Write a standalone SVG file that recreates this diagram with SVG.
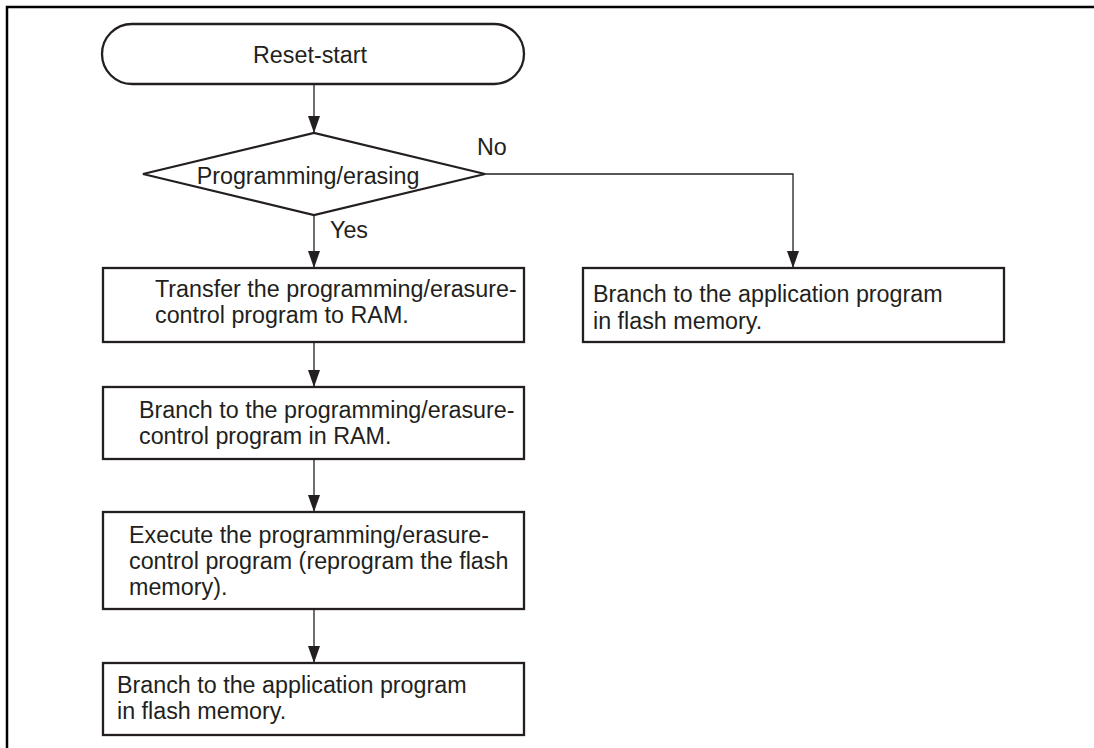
<svg xmlns="http://www.w3.org/2000/svg" width="1094" height="748" viewBox="0 0 1094 748">
<style>
.s{fill:#fff;stroke:#231f20;stroke-width:2.3}
.t{font-family:"Liberation Sans",Arial,sans-serif;font-size:23.3px;fill:#231f20}
.c{fill:none;stroke:#231f20;stroke-width:1.3}
</style>
<defs>
<marker id="ah" markerWidth="18" markerHeight="12" refX="17" refY="6" orient="auto" markerUnits="userSpaceOnUse">
<path d="M0,0 L17,6 L0,12 Z" fill="#231f20"/>
</marker>
</defs>
<rect width="1094" height="748" fill="#fff"/>
<path d="M7,748 V7 H1094" fill="none" stroke="#000" stroke-width="2.5"/>
<g id="connectors">
<line class="c" x1="314" y1="84" x2="314" y2="133" marker-end="url(#ah)"/>
<line class="c" x1="314" y1="215" x2="314" y2="268" marker-end="url(#ah)"/>
<polyline class="c" points="485,174 793,174 793,268" marker-end="url(#ah)"/>
<line class="c" x1="314" y1="342" x2="314" y2="387" marker-end="url(#ah)"/>
<line class="c" x1="314" y1="459" x2="314" y2="512" marker-end="url(#ah)"/>
<line class="c" x1="314" y1="609" x2="314" y2="663" marker-end="url(#ah)"/>
<text class="t" x="477" y="155">No</text>
<text class="t" x="330" y="238">Yes</text>
</g>
<g id="start">
<rect class="s" x="102" y="24" width="422" height="60" rx="30" ry="30"/>
<text class="t" x="310" y="63" text-anchor="middle">Reset-start</text>
</g>
<g id="decision">
<polygon class="s" points="143,174 314,133 485,174 314,215"/>
<text class="t" x="308" y="184" text-anchor="middle">Programming/erasing</text>
</g>
<g id="transfer">
<rect class="s" x="103" y="268" width="421" height="74"/>
<text class="t" x="155" y="297">Transfer the programming/erasure-</text>
<text class="t" x="155" y="323">control program to RAM.</text>
</g>
<g id="branch-ram">
<rect class="s" x="103" y="387" width="421" height="72"/>
<text class="t" x="139" y="418">Branch to the programming/erasure-</text>
<text class="t" x="139" y="444">control program in RAM.</text>
</g>
<g id="execute">
<rect class="s" x="103" y="512" width="421" height="97"/>
<text class="t" x="129" y="543">Execute the programming/erasure-</text>
<text class="t" x="129" y="569">control program (reprogram the flash</text>
<text class="t" x="129" y="595">memory).</text>
</g>
<g id="branch-app-left">
<rect class="s" x="103" y="663" width="421" height="72"/>
<text class="t" x="117" y="693">Branch to the application program</text>
<text class="t" x="117" y="719">in flash memory.</text>
</g>
<g id="branch-app-right">
<rect class="s" x="583" y="268" width="421" height="74"/>
<text class="t" x="593" y="302">Branch to the application program</text>
<text class="t" x="593" y="329">in flash memory.</text>
</g>
</svg>
